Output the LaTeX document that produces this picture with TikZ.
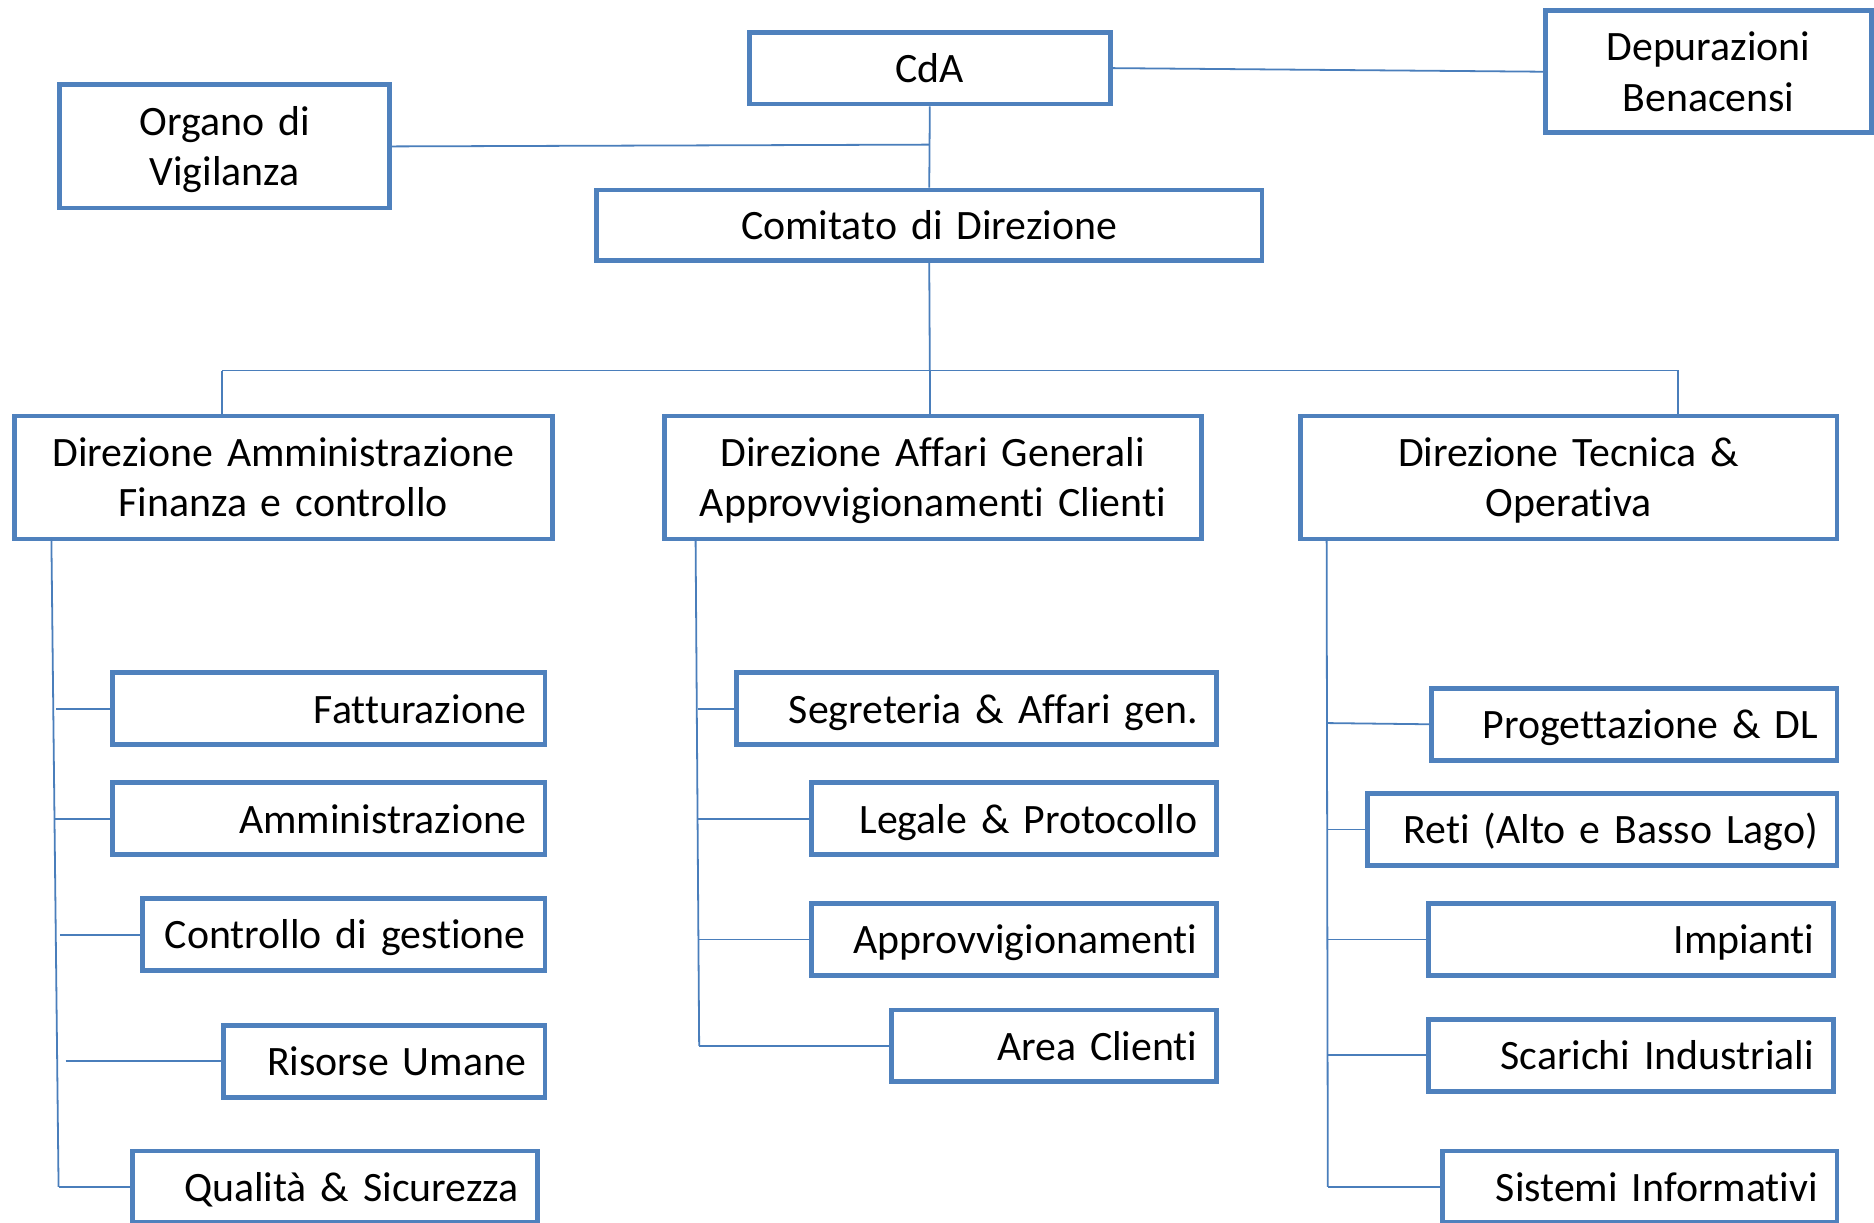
\documentclass[tikz,border=0pt]{standalone}
\usepackage{fontspec}
\setmainfont{Carlito}[Ligatures=CommonOff]
\definecolor{boxblue}{HTML}{4F81BD}
\definecolor{lineblue}{HTML}{4A7EBB}
\newcommand\orgboxfont{\fontsize{35pt}{42pt}\selectfont\fontdimen2\font=6.5pt\relax}
\begin{document}
\begin{tikzpicture}[x=1pt,y=-1pt,
  box/.style={draw=boxblue, line width=4pt, inner xsep=16pt, inner ysep=0pt,
    font=\orgboxfont, text height=24pt, text depth=0pt},
  one/.style={box, align=right},
  two/.style={box, align=center, text depth=42pt},
  mid/.style={box, align=center},
  conn/.style={draw=lineblue, line width=1.5pt}]
\useasboundingbox (0,0) rectangle (1568,1023);
% top level
\node[mid, minimum width=302pt, text width=270pt, minimum height=60pt] (cda) at (778,57) {CdA};
\node[two, minimum width=273pt, text width=241pt, minimum height=102pt] (dep) at (1429.5,60) {Depurazioni\\Benacensi};
\node[two, minimum width=276pt, text width=244pt, minimum height=103pt] (org) at (188,122.5) {Organo di\\Vigilanza};
\node[mid, minimum width=557pt, text width=525pt, minimum height=59pt] (cdd) at (777.5,188.5) {Comitato di Direzione};
% directions
\node[two, minimum width=450pt, text width=418pt, minimum height=103pt] (dam) at (237,399.5) {Direzione Amministrazione\\Finanza e controllo};
\node[two, minimum width=449pt, text width=417pt, minimum height=103pt] (dag) at (780.5,399.5) {Direzione Affari Generali\\Approvvigionamenti Clienti};
\node[two, minimum width=449pt, text width=417pt, minimum height=103pt] (dtec) at (1312.5,399.5) {Direzione Tecnica \&\\Operativa};
% left children
\node[one, text width=330pt, minimum height=60pt] (fatt) at (275,593) {Fatturazione};
\node[one, text width=330pt, minimum height=60pt] (amm) at (275,685) {Amministrazione};
\node[one, text width=305pt, minimum height=60pt] (cdg) at (287.5,782) {Controllo di gestione};
\node[one, text width=237pt, minimum height=60pt] (ru) at (321.5,888) {Risorse Umane};
\node[one, text width=307pt, minimum height=60pt] (qs) at (280.5,993) {Qualità \& Sicurezza};
% middle children
\node[one, text width=370pt, minimum height=60pt] (seg) at (817,593) {Segreteria \& Affari gen.};
\node[one, text width=307pt, minimum height=60pt] (leg) at (848.5,685) {Legale \& Protocollo};
\node[one, text width=307pt, minimum height=60pt] (app) at (848.5,786) {Approvvigionamenti};
\node[one, text width=240pt, minimum height=60pt] (ac) at (882,875) {Area Clienti};
% right children
\node[one, text width=307pt, minimum height=60pt] (prog) at (1367.5,606) {Progettazione \& DL};
\node[one, text width=361pt, minimum height=60pt] (reti) at (1340.5,694) {Reti (Alto e Basso Lago)};
\node[one, text width=307pt, minimum height=60pt] (imp) at (1364.5,786) {Impianti};
\node[one, text width=307pt, minimum height=60pt] (sc) at (1364.5,883) {Scarichi Industriali};
\node[one, text width=298pt, minimum height=60pt] (si) at (1372,993) {Sistemi Informativi};
% coordinates
\coordinate (ov) at (778,121);
\coordinate (hub) at (778,310);
\coordinate (hl) at (186,310);
\coordinate (hr) at (1405,310);
\coordinate (hrv) at (1404,310);
\coordinate (lt) at (43,451);
\coordinate (lb) at (49,993);
\coordinate (l1) at (47,593);
\coordinate (l2) at (45,685);
\coordinate (l3) at (50,782);
\coordinate (l4) at (55,888);
\coordinate (mt) at (582,451);
\coordinate (mb) at (585,875);
\coordinate (m1) at (584,593);
\coordinate (m2) at (584,685);
\coordinate (m3) at (585,786);
\coordinate (rt) at (1110,451);
\coordinate (rb) at (1111,993);
\coordinate (r1) at (1111,605);
\coordinate (r2) at (1111,694);
\coordinate (r3) at (1111,786);
\coordinate (r4) at (1111,883);
% connectors
\draw[conn] (cda.south) -- (cdd.north);
\draw[conn] (org.east) -- (ov);
\draw[conn] (cda.east) -- (dep.west);
\draw[conn] (cdd.south) -- (hub);
\draw[conn] (hl) -- (hr);
\draw[conn] (hl) -- (hl |- dam.north);
\draw[conn] (hub) -- (hub |- dag.north);
\draw[conn] (hrv) -- (hrv |- dtec.north);
% left column
\draw[conn] (lt) -- (lb);
\draw[conn] (l1) -- (fatt.west);
\draw[conn] (l2) -- (amm.west);
\draw[conn] (l3) -- (cdg.west);
\draw[conn] (l4) -- (ru.west);
\draw[conn] (lb) -- (qs.west);
% middle column
\draw[conn] (mt) -- (mb);
\draw[conn] (m1) -- (seg.west);
\draw[conn] (m2) -- (leg.west);
\draw[conn] (m3) -- (app.west);
\draw[conn] (mb) -- (ac.west);
% right column
\draw[conn] (rt) -- (rb);
\draw[conn] (r1) -- (prog.west);
\draw[conn] (r2) -- (reti.west);
\draw[conn] (r3) -- (imp.west);
\draw[conn] (r4) -- (sc.west);
\draw[conn] (rb) -- (si.west);
\end{tikzpicture}
\end{document}
